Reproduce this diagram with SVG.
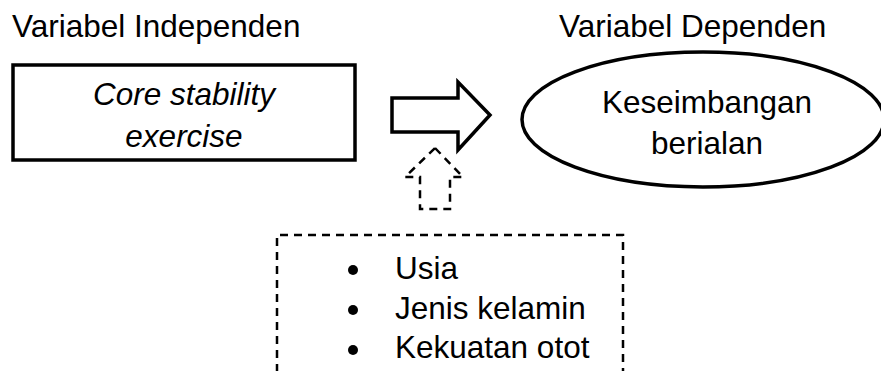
<svg xmlns="http://www.w3.org/2000/svg" width="881" height="371" viewBox="0 0 881 371">
<style>
text{font-family:"Liberation Sans",Arial,sans-serif;font-size:31.5px;fill:#000}
.solid{fill:#fff;stroke:#000;stroke-width:3.5}
.dash{fill:none;stroke:#000;stroke-width:2.5;stroke-dasharray:8 6}
</style>
<rect width="881" height="371" fill="#fff"/>
<g id="label-independen"><text x="12" y="37">Variabel Independen</text></g>
<g id="label-dependen"><text x="559" y="37">Variabel Dependen</text></g>
<g id="node-core">
<rect class="solid" x="13" y="65" width="342" height="95"/>
<text x="184" y="105" text-anchor="middle" font-style="italic">Core stability</text>
<text x="184" y="147" text-anchor="middle" font-style="italic">exercise</text>
</g>
<g id="node-keseimbangan">
<ellipse class="solid" cx="703" cy="119.5" rx="181" ry="67.5"/>
<text x="707" y="113" text-anchor="middle">Keseimbangan</text>
<text x="707" y="154" text-anchor="middle">berialan</text>
</g>
<g id="connectors">
<path class="solid" d="M392,98 H458 V82 L490,115 L458,150 V132 H392 Z"/>
<path class="dash" d="M435,148 L463,177 H450 V209 H420 V177 H405 Z"/>
</g>
<g id="node-faktor">
<path class="dash" d="M277,372 V235 H623 V372"/>
<circle cx="353" cy="270" r="5"/>
<circle cx="353" cy="310" r="5"/>
<circle cx="353" cy="350" r="5"/>
<text x="395" y="279">Usia</text>
<text x="395" y="319">Jenis kelamin</text>
<text x="395" y="358">Kekuatan otot</text>
</g>
</svg>
